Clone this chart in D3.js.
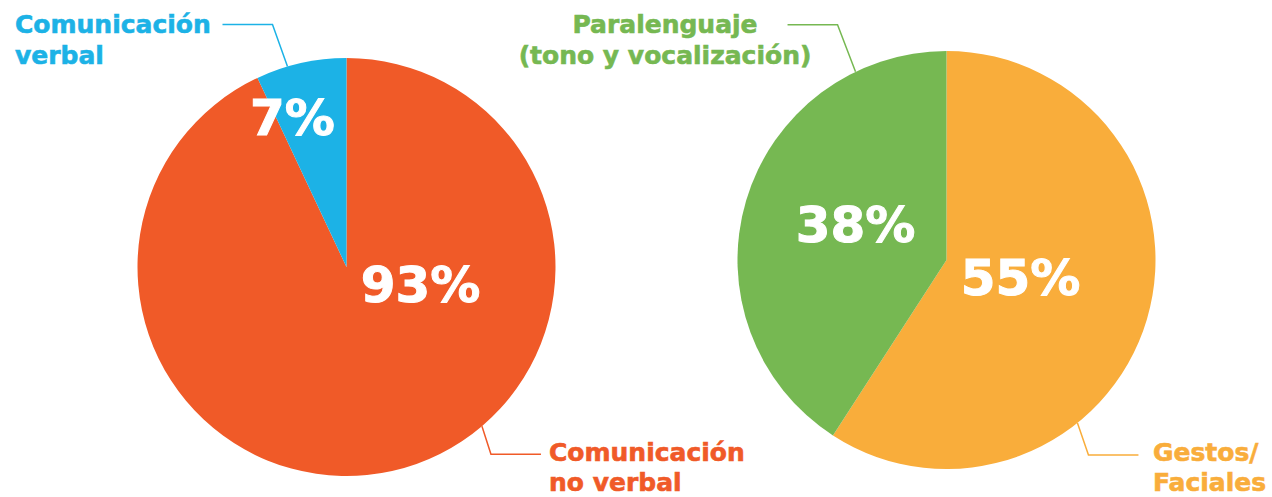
<!DOCTYPE html>
<html>
<head>
<meta charset="utf-8">
<script src="https://cdn.jsdelivr.net/npm/d3@7"></script>
<style>
  html, body { margin: 0; padding: 0; background: #fff; }
  svg { display: block; }
  text { font-family: "DejaVu Sans", Verdana, sans-serif; font-weight: bold; }
</style>
</head>
<body>
<div id="chart"></div>
<script>
// Données : deux camemberts
const pie1Labels = [["Comunicación", "no verbal"], ["Comunicación", "verbal"]];
const pie1Values = [93, 7];
const pie1Colors = ["#F05A28", "#1CB2E6"];

const pie2Labels = [["Gestos/", "Faciales"], ["Paralenguaje", "(tono y vocalización)"]];
const pie2Values = [55, 38];
const pie2Colors = ["#F9AD3B", "#76B852"];

// Configuration
const width = 1272;
const height = 497;
const radius = 209;

const svg = d3.select("#chart")
    .append("svg")
    .attr("width", width)
    .attr("height", height);

// Mise en page de chaque camembert (positions, étiquettes, lignes de rappel)
const layouts = [
    {
        cx: 346.5, cy: 267,
        labels: pie1Labels, values: pie1Values, colors: pie1Colors,
        pct: [{ dx: 74, dy: 35 }, { dx: -54, dy: -132 }],
        leaders: [
            { angle: 139.6, elbow: [9, 28], len: 50, tx: 549, ty: 461, lh: 30, anchor: "start" },
            { angle: -16.4, elbow: [-15, -42], len: -50, tx: 15, ty: 33, lh: 31, anchor: "start" }
        ]
    },
    {
        cx: 946.5, cy: 260,
        labels: pie2Labels, values: pie2Values, colors: pie2Colors,
        pct: [{ dx: 74, dy: 35 }, { dx: -91, dy: -18 }],
        leaders: [
            { angle: 141.2, elbow: [11, 32], len: 50, tx: 1153, ty: 461, lh: 30, anchor: "start" },
            { angle: -25.8, elbow: [-18, -47], len: -50, tx: 665, ty: 33, lh: 31, anchor: "middle" }
        ]
    }
];

const pie = d3.pie().value(d => d).sort(null);
const arc = d3.arc().innerRadius(0).outerRadius(radius);

layouts.forEach(L => {
    const g = svg.append("g")
        .attr("transform", `translate(${L.cx},${L.cy})`);

    const arcs = pie(L.values);

    // Secteurs
    g.selectAll(".slice")
        .data(arcs)
        .enter()
        .append("path")
        .attr("class", "slice")
        .attr("d", arc)
        .attr("fill", (d, i) => L.colors[i]);

    // Pourcentages
    g.selectAll(".pct")
        .data(arcs)
        .enter()
        .append("text")
        .attr("class", "pct")
        .attr("x", (d, i) => L.pct[i].dx)
        .attr("y", (d, i) => L.pct[i].dy)
        .attr("text-anchor", "middle")
        .attr("fill", "#fff")
        .attr("stroke", "#fff")
        .attr("stroke-width", 1)
        .style("font-size", "50px")
        .text(d => `${d.data}%`);

    // Lignes de rappel + étiquettes
    L.leaders.forEach((ld, i) => {
        const a = ld.angle * Math.PI / 180;
        const x0 = L.cx + radius * Math.sin(a);
        const y0 = L.cy - radius * Math.cos(a);
        const x1 = x0 + ld.elbow[0];
        const y1 = y0 + ld.elbow[1];
        const x2 = x1 + ld.len;

        svg.append("path")
            .attr("d", d3.line()([[x0, y0], [x1, y1], [x2, y1]]))
            .attr("fill", "none")
            .attr("stroke", L.colors[i])
            .attr("stroke-width", 1.5);

        const t = svg.append("text")
            .attr("x", ld.tx)
            .attr("y", ld.ty)
            .attr("text-anchor", ld.anchor)
            .attr("fill", L.colors[i])
            .attr("stroke", L.colors[i])
            .attr("stroke-width", 0.6)
            .style("font-size", "25px");

        L.labels[i].forEach((line, j) => {
            t.append("tspan")
                .attr("x", ld.tx)
                .attr("dy", j === 0 ? 0 : ld.lh)
                .text(line);
        });
    });
});
</script>
</body>
</html>
